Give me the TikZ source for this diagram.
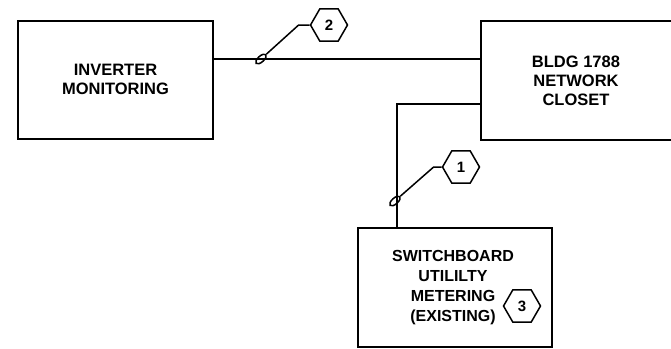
\documentclass[tikz,border=0pt]{standalone}
\usepackage{fontspec}
\setmainfont{Liberation Sans}
\usetikzlibrary{shapes.geometric}
\begin{document}
\begin{tikzpicture}[x=1pt,y=-1pt,
  box/.style={draw,line width=2pt,inner sep=0pt},
  bigtxt/.style={align=center,font=\bfseries\fontsize{16.5}{19}\selectfont,inner sep=0pt},
  smalltxt/.style={align=center,font=\bfseries\fontsize{16}{20}\selectfont,inner sep=0pt},
  wire/.style={line width=1.5pt},
  hexa/.style={draw,regular polygon,regular polygon sides=6,minimum size=37pt,inner sep=0pt,line width=1.5pt,font=\bfseries\fontsize{15}{16}\selectfont},
  marker/.style={draw,ellipse,minimum width=13pt,minimum height=6pt,inner sep=0pt,line width=1.5pt,rotate=42}]
\useasboundingbox (0,0) rectangle (671,348);
% boxes
\node[box,minimum width=195pt,minimum height=118pt] (inv) at (115.5,80) {};
\node[bigtxt] (invtxt) at (115.5,79) {INVERTER\\MONITORING};
\node[box,minimum width=230pt,minimum height=119pt] (closet) at (596,80.5) {};
\node[bigtxt] (closettxt) at (576,81) {BLDG 1788\\NETWORK\\CLOSET};
\node[box,minimum width=194pt,minimum height=119pt] (switch) at (455,287.5) {};
\node[smalltxt] (switchtxt) at (453,288) {SWITCHBOARD\\UTILILTY\\METERING\\(EXISTING)};
% connectors
\draw[wire] ([yshift=21pt]inv.east) -- ([yshift=21pt]inv.east -| closet.west);
\draw[wire] ([yshift=-23.5pt]closet.west) -| ([xshift=-58pt]switch.north);
% cable markers
\node[marker] (oval2) at (261,59) {};
\node[marker] (oval1) at (395,201) {};
% tags
\node[hexa] (hex2) at (329,25) {2};
\node[hexa] (hex1) at (461,167) {1};
\node[hexa] (hex3) at (522,306) {3};
\draw[wire] (hex2.west) -- ++(-11,0) -- (oval2.east);
\draw[wire] (hex1.west) -- ++(-8,0) -- (oval1.east);
\end{tikzpicture}
\end{document}
